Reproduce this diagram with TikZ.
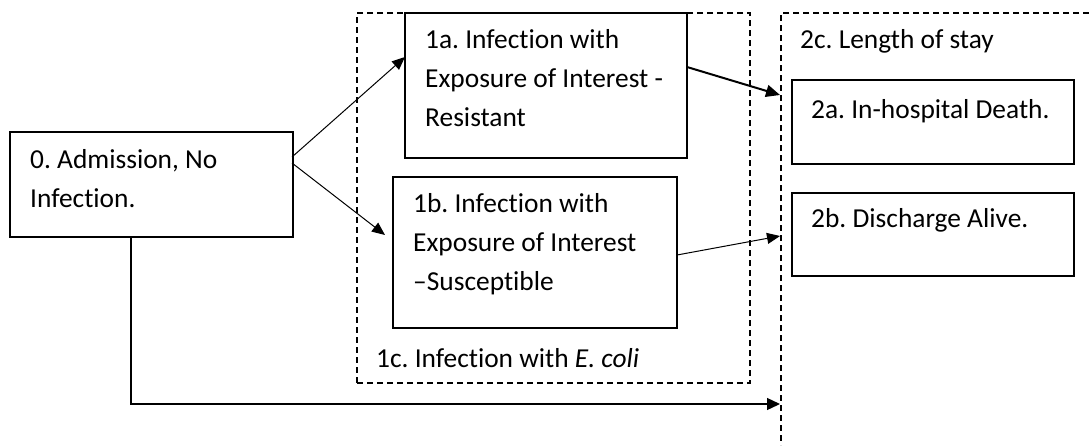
\documentclass[tikz,border=0pt]{standalone}
\usepackage{fontspec}
\setmainfont{Carlito}[Ligatures={NoCommon}]
\frenchspacing
\usetikzlibrary{arrows.meta,calc}
\begin{document}
\begin{tikzpicture}[x=1pt,y=-1pt,
  box/.style={draw, line width=2pt, inner sep=0pt, outer sep=0pt},
  thinbox/.style={draw, line width=1.3pt, inner sep=0pt, outer sep=0pt},
  dbox/.style={draw, line width=1.3pt, dash pattern=on 6pt off 4pt, inner sep=0pt, outer sep=0pt},
  txt/.style={anchor=base west, align=left, inner sep=0pt, font=\fontsize{27.4}{39}\selectfont},
  arr/.style={line width=1pt, -{Triangle[length=13pt,width=11pt]}},
  thickarr/.style={line width=2pt, -{Triangle[length=14pt,width=12pt]}}]
\useasboundingbox[fill=white] (0,0) rectangle (1089,445);
% group boxes
\node[dbox, minimum width=393pt, minimum height=370pt] (g1) at (553.5,198) {};
\draw[line width=1.3pt, dash pattern=on 6pt off 4pt] (1089,13) -| (781,445);
\coordinate (p2a) at (780,95);
\coordinate (p2b) at (780,236);
\coordinate (p2c) at (780,404);
% boxes
\node[box, minimum width=283pt, minimum height=105pt] (n0) at (151.5,184.5) {};
\node[box, minimum width=282pt, minimum height=145pt] (n1a) at (546,85.5) {};
\node[box, minimum width=284pt, minimum height=151pt] (n1b) at (535,252.5) {};
\node[thinbox, minimum width=282pt, minimum height=84pt] (n2a) at (933,122) {};
\node[thinbox, minimum width=282pt, minimum height=83pt] (n2b) at (933,234.5) {};
% texts (base anchor = baseline of last line)
\node[txt] (t0) at (30,207) {0. Admission, No\\Infection.};
\node[txt] (t1a) at (425,126.5) {1a. Infection with\\Exposure of Interest -\\Resistant};
\node[txt] (t1b) at (413,290) {1b. Infection with\\Exposure of Interest\\–Susceptible};
\node[txt] (t1c) at (376,367) {1c. Infection with \textit{E. coli}};
\node[txt] (t2c) at (800,48) {2c. Length of stay};
\node[txt] (t2a) at (811,118) {2a. In-hospital Death.};
\node[txt] (t2b) at (811,227) {2b. Discharge Alive.};
% arrows
\draw[arr] ($(n0.north east)+(-1,25)$) -- ($(n1a.west)+(0,-28.5)$);
\draw[arr] ($(n0.north east)+(-1,31)$) -- ($(n1b.west)+(-8,-17.5)$);
\draw[thickarr] ($(n1a.east)+(0,-18.5)$) -- (p2a);
\draw[arr] ($(n1b.east)+(0,2.5)$) -- (p2b);
\draw[line width=1.3pt, -{Triangle[length=13pt,width=12pt]}] ($(n0.south)+(-20.5,0)$) |- (p2c);
\end{tikzpicture}
\end{document}
